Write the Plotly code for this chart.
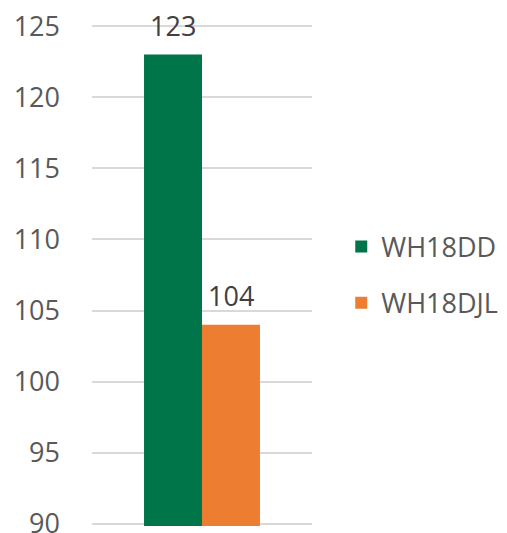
import plotly.graph_objects as go

category = ["Group"]
series_names = ["WH18DD", "WH18DJL"]
series_values = [[123], [104]]
colors = ["#00754A", "#ED7D31"]
y_ticks = [90, 95, 100, 105, 110, 115, 120, 125]

fig = go.Figure()
for i, (name, vals) in enumerate(zip(series_names, series_values)):
    fig.add_trace(go.Bar(
        x=category, y=vals, name=name, marker_color=colors[i],
        marker_line_width=0, legendgroup=name, offsetgroup=str(i),
    ))

# value labels above bars
n = len(series_names)
for i, (name, vals) in enumerate(zip(series_names, series_values)):
    for c, v in zip(category, vals):
        fig.add_annotation(
            x=c, y=v, xref="x", yref="y", text=str(v), showarrow=False,
            yanchor="bottom", yshift=9,
            xshift=(i - (n - 1) / 2) * 58,
            font=dict(size=27, color="#404040", family="Open Sans"),
        )

fig.update_layout(
    width=507, height=533,
    margin=dict(l=92, r=195, t=24, b=7, autoexpand=False),
    paper_bgcolor="white", plot_bgcolor="white",
    barmode="group", bargap=0.473, bargroupgap=0,
    font=dict(family="Open Sans", color="#595959", size=27),
    showlegend=True,
    legend=dict(x=1.133, xanchor="left", y=0.5, yanchor="middle",
                font=dict(size=27, color="#595959"), tracegroupgap=18),
)
fig.update_xaxes(showticklabels=False, showgrid=False, zeroline=False, showline=False)
fig.update_yaxes(range=[89.85, 125.15], tickvals=y_ticks, showgrid=True, gridcolor="#D9D9D9",
                 gridwidth=2, zeroline=False, showline=False, ticks="",
                 ticklabelstandoff=31, ticklabeloverflow="allow",
                 tickfont=dict(size=27, color="#595959"))

fig.write_html("out.html", config={"displayModeBar": False},
               post_script="document.body.style.margin='0';document.body.style.overflow='hidden';")
